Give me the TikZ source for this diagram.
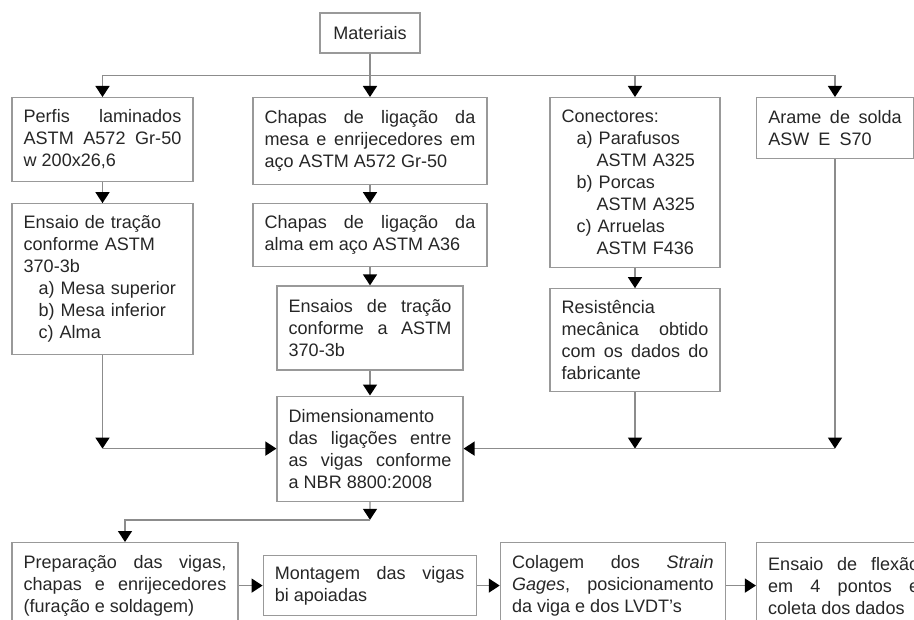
\documentclass[tikz,border=0pt]{standalone}
\usepackage{fontspec}
\setmainfont{Liberation Sans}
\usetikzlibrary{arrows.meta, positioning, calc}
\hyphenpenalty=10000
\exhyphenpenalty=10000

\begin{document}
\begin{tikzpicture}[
  box/.style={draw=black!40, line width=1pt, text=black!85, inner xsep=0.35cm, inner ysep=0.1cm, font=\fontsize{15.4pt}{18.8pt}\selectfont},
  jbox/.style={box, align=justify},
  lbox/.style={box, align=left},
  conn/.style={draw=black!45, line width=1.2pt, -{Triangle[width=0.42cm, length=0.33cm, color=black]}}]
\useasboundingbox (0,0) rectangle (27.42,-18.6);
\clip (0,0) rectangle (27.42,-18.6);

\node[box, minimum width=3cm, minimum height=1.2cm] (mat) at (11.1,-0.99) {Materiais};

% first row
\node[jbox, anchor=north, text width=4.73cm, minimum height=2.52cm] (perfis) at (3.075,-2.91) {Perfis laminados\linebreak ASTM A572 Gr-50\linebreak w 200x26,6};
\node[jbox, anchor=north, text width=6.32cm, minimum height=2.61cm] (chap1) at (11.1,-2.91) {Chapas de ligação da\linebreak mesa e enrijecedores em\linebreak aço ASTM A572 Gr-50};
\node[lbox, anchor=north, text width=4.4cm, minimum height=5.1cm] (conect) at (19.05,-2.91) {Conectores:\\ \hspace*{0.45cm}a) Parafusos\\ \hspace*{1.05cm}ASTM A325\\ \hspace*{0.45cm}b) Porcas\\ \hspace*{1.05cm}ASTM A325\\ \hspace*{0.45cm}c) Arruelas\\ \hspace*{1.05cm}ASTM F436};
\node[jbox, anchor=north, text width=4.0cm, minimum height=1.83cm] (arame) at (25.05,-2.91) {Arame de solda\linebreak ASW\hspace{0.5em}E\hspace{0.5em}S70};

% columns
\node[lbox, below=0.63cm of perfis, text width=4.73cm, minimum height=4.53cm] (ensaio1) {Ensaio de tração\\ conforme ASTM\\ 370-3b\\ \hspace*{0.45cm}a) Mesa superior\\ \hspace*{0.45cm}b) Mesa inferior\\ \hspace*{0.45cm}c) Alma};
\node[jbox, below=0.54cm of chap1, text width=6.32cm, minimum height=1.89cm] (chap2) {Chapas de ligação da\linebreak alma em aço ASTM A36};
\node[jbox, below=0.54cm of chap2, text width=4.88cm, minimum height=2.52cm] (ensaio2) {Ensaios de tração\linebreak conforme a ASTM\linebreak 370-3b};
\node[jbox, below=0.75cm of ensaio2, text width=4.88cm, minimum height=3.15cm] (dimens) {Dimensionamento\linebreak das ligações entre\linebreak as vigas conforme\linebreak a NBR 8800:2008};
\node[jbox, below=0.6cm of conect, text width=4.4cm, minimum height=3.09cm] (resist) {Resistência\linebreak mecânica obtido\linebreak com os dados do\linebreak fabricante};

% last row
\node[jbox, anchor=north, text width=6.08cm, minimum height=2.58cm] (prep) at (3.75,-16.26) {Preparação das vigas,\linebreak chapas e enrijecedores\linebreak (furação e soldagem)};
\node[jbox, right=0.72cm of prep, text width=5.69cm, minimum height=1.8cm] (mont) {Montagem das vigas\linebreak bi apoiadas};
\node[jbox, right=0.69cm of mont, text width=6.05cm, minimum height=2.58cm] (colag) {Colagem dos \textit{Strain}\linebreak \textit{Gages}, posicionamento\linebreak da viga e dos LVDT's};
\node[jbox, right=0.9cm of colag, text width=4.53cm, minimum height=2.58cm] (flex) {Ensaio de flexão\linebreak em 4 pontos e\linebreak coleta dos dados};

\coordinate (split) at ($(mat.south)!0.5!(chap1.north)$);
\coordinate (mergeL) at (ensaio1 |- dimens.west);
\coordinate (mergeC) at (resist |- dimens.east);
\coordinate (mergeR) at (arame |- dimens.east);
\coordinate (split2) at ($(dimens.south)!0.45!(dimens.south |- prep.north)$);

\draw[conn] (mat) -- (chap1);
\draw[conn] (split) -| (perfis);
\draw[conn] (split) -| (conect);
\draw[conn] (split) -| (arame);

\draw[conn] (perfis) -- (ensaio1);
\draw[conn] (chap1) -- (chap2);
\draw[conn] (chap2) -- (ensaio2);
\draw[conn] (ensaio2) -- (dimens);
\draw[conn] (conect) -- (resist);

\draw[conn] (ensaio1) -- (mergeL);
\draw[conn] (mergeL) -- (dimens);
\draw[conn] (resist) -- (mergeC);
\draw[conn] (arame) -- (mergeR);
\draw[conn] (mergeR) -- (dimens);

\draw[conn] (dimens) -- (split2);
\draw[conn] (split2) -| (prep);
\draw[conn] (prep) -- (mont);
\draw[conn] (mont) -- (colag);
\draw[conn] (colag) -- (flex);

\end{tikzpicture}
\end{document}
